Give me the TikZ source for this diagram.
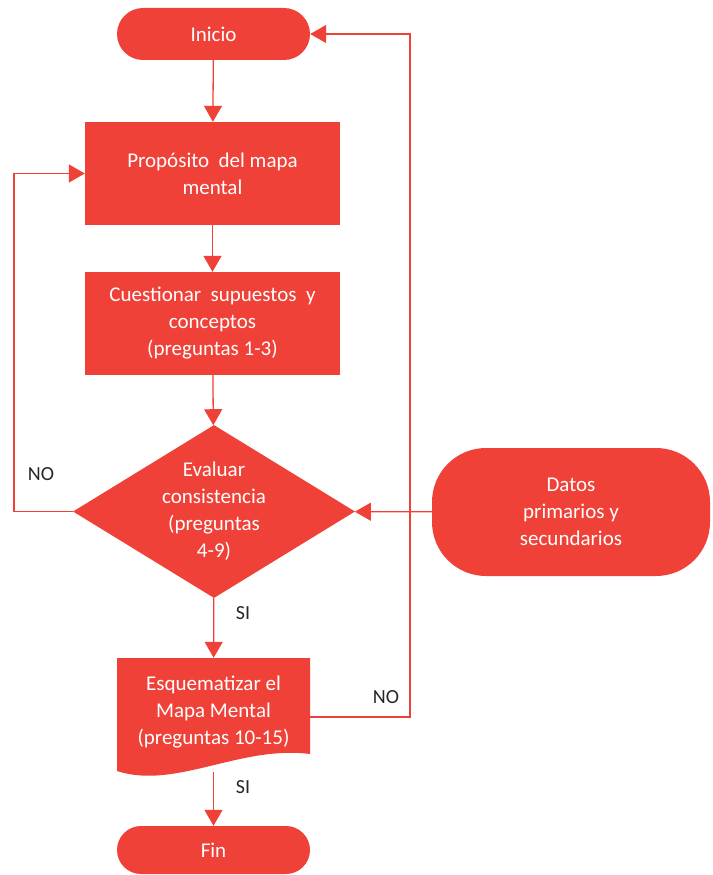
\documentclass[tikz,border=0pt]{standalone}
\usepackage{fontspec}
\setmainfont{Carlito}
\usetikzlibrary{arrows.meta,positioning,shapes.geometric,shapes.misc}
\definecolor{rojo}{RGB}{239,65,56}
\tikzset{
  blk/.style  ={fill=rojo,text=white,align=center,inner sep=0pt,
                font=\fontsize{21}{27}\selectfont},
  term/.style ={blk,rounded rectangle},
  proc/.style ={blk,rectangle},
  deci/.style ={blk,diamond,aspect=1.63,inner sep=-5pt},
  ed/.style   ={-{Triangle[length=16pt,width=18pt]},draw=rojo,line width=1.3pt},
  lab/.style  ={font=\fontsize{20}{24}\selectfont,text=black!85,inner sep=1pt},
}

\begin{document}
\begin{tikzpicture}[x=1pt,y=-1pt]
\useasboundingbox (0,0) rectangle (712,875);
%% main column
\node[term,minimum width=193pt,minimum height=52pt] (ini) at (213.5,34) {Inicio};
\node[proc,minimum width=255pt,minimum height=103pt] (prop) at (212.5,173.5)
      {Propósito \ del mapa\\mental};
\node[proc,minimum width=255pt,minimum height=103pt] (cues) at (212.5,323.5)
      {Cuestionar \ supuestos \ y\\conceptos\\(preguntas 1-3)};
\node[deci,minimum width=282pt,minimum height=173pt] (eval) at (214,511.5)
      {Evaluar\\consistencia\\(preguntas\\4-9)};
%% document shape (wavy bottom)
\fill[rojo] (117,658) -- (310,658) -- (310,754)
      .. controls (240,745) and (175,790) .. (117,771) -- cycle;
\node[proc,fill=none,minimum width=193pt,minimum height=108pt] (esq) at (213.5,712)
      {Esquematizar el\\Mapa Mental\\(preguntas 10-15)};
\coordinate (esqb) at (213.5,772);
\node[term,minimum width=193pt,minimum height=48pt] (fin) at (213.5,850) {Fin};
%% side input
\node[proc,rounded corners=54pt,minimum width=278pt,minimum height=128pt]
      (datos) at (571,512) {Datos\\primarios y\\secundarios};
%% loop guides
\coordinate (lloop) at (14,0);
\coordinate (rloop) at (410,0);
%% connectors
\draw[ed] (ini)  -- (prop);
\draw[ed] (prop) -- (cues);
\draw[ed] (cues) -- (eval);
\draw[ed] (eval) -- (esq);
\draw[ed] (esqb) -- (fin);
\draw[ed] (datos) -- (eval);
\draw[ed] (eval.west) -- (eval.west -| lloop) -- (lloop |- prop.west) -- (prop.west);
\draw[ed] ([yshift=-5pt]esq.east) -- ([yshift=-5pt]esq.east -| rloop)
      -- (rloop |- ini.east) -- (ini.east);
%% labels
\node[lab] (no1) at (41,474)  {NO};
\node[lab] (no2) at (386,697) {NO};
\node[lab] (si1) at (243,613) {SI};
\node[lab] (si2) at (243,787) {SI};
\end{tikzpicture}
\end{document}
